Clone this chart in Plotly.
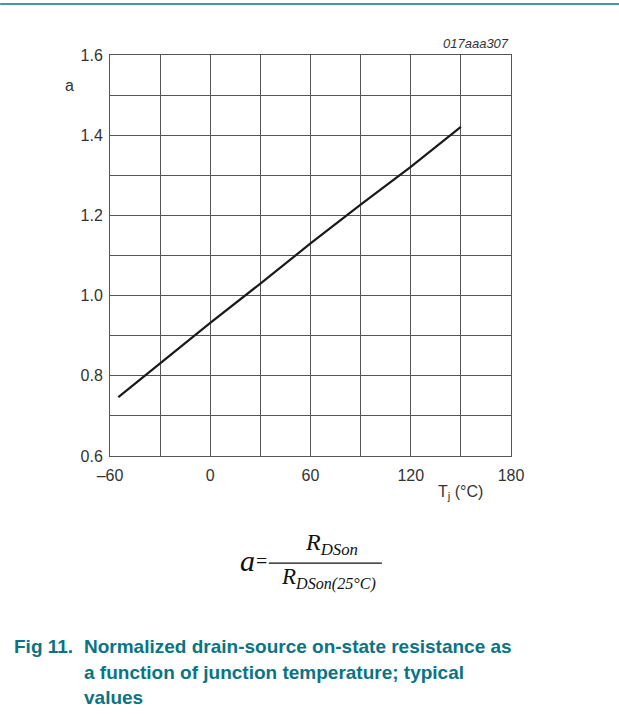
import plotly.graph_objects as go

# Normalized on-state resistance vs junction temperature
tj_c = [-55, -30, 0, 30, 60, 90, 120, 150]
a_norm = [0.747, 0.831, 0.932, 1.030, 1.130, 1.227, 1.321, 1.421]

x_ticks = [-60, 0, 60, 120, 180]
x_tick_text = ["\u201360", "0", "60", "120", "180"]
y_ticks = [0.6, 0.8, 1.0, 1.2, 1.4, 1.6]
y_tick_text = ["0.6", "0.8", "1.0", "1.2", "1.4", "1.6"]

GRID = "#555555"
TEAL = "#0a7384"
TXT = "#333333"
SANS = "Liberation Sans, Arial"

fig = go.Figure()
fig.add_trace(go.Scatter(
    x=tj_c, y=a_norm, mode="lines",
    line=dict(color="#1a1a1a", width=2.2),
    showlegend=False, hoverinfo="skip",
))

axis_common = dict(
    showline=True, linecolor=GRID, linewidth=1, mirror=True,
    showgrid=True, gridcolor=GRID, gridwidth=1,
    zeroline=False, ticks="",
    tickfont=dict(family=SANS, size=16, color=TXT),
)

fig.update_xaxes(
    range=[-60, 180], tickvals=x_ticks, ticktext=x_tick_text,
    minor=dict(dtick=30, tick0=-60, showgrid=True, gridcolor=GRID, gridwidth=1),
    ticklabelstandoff=5,
    **axis_common,
)
fig.update_yaxes(
    range=[0.6, 1.6], tickvals=y_ticks, ticktext=y_tick_text,
    minor=dict(dtick=0.1, tick0=0.6, showgrid=True, gridcolor=GRID, gridwidth=1),
    ticklabelstandoff=3,
    **axis_common,
)

# drawing number, axis symbols
fig.add_annotation(text="<i>017aaa307</i>", x=1.0, y=1.0, xref="paper", yref="paper",
                   xanchor="right", yanchor="bottom", yshift=2, showarrow=False,
                   font=dict(family=SANS, size=13, color=TXT))
fig.add_annotation(text="a", x=0, y=1, xref="paper", yref="paper",
                   xanchor="right", yanchor="middle", xshift=-34, yshift=-30,
                   showarrow=False, font=dict(family=SANS, size=16, color=TXT))
fig.add_annotation(text="T<sub>j</sub> (\u00b0C)", x=0.875, y=0, xref="paper",
                   yref="paper", xanchor="center", yanchor="top", yshift=-25,
                   showarrow=False, font=dict(family=SANS, size=16, color=TXT))

# definition of a
serif = "Liberation Serif, Times New Roman, serif"
EQ = "#111111"
fig.add_annotation(text="<i>a</i>", x=0.342, y=-0.260, xref="paper", yref="paper",
                   showarrow=False, xanchor="center", yanchor="middle",
                   font=dict(family=serif, size=30, color=EQ))
fig.add_annotation(text="=", x=0.377, y=-0.262, xref="paper", yref="paper",
                   showarrow=False, xanchor="center", yanchor="middle",
                   font=dict(family=serif, size=20, color=EQ))
fig.add_annotation(text="<i>R<sub>DSon</sub></i>", x=0.553, y=-0.220, xref="paper",
                   yref="paper", showarrow=False, xanchor="center", yanchor="middle",
                   font=dict(family=serif, size=24, color=EQ))
fig.add_annotation(text="<i>R<sub>DSon(25\u00b0C)</sub></i>", x=0.545, y=-0.306,
                   xref="paper", yref="paper", showarrow=False, xanchor="center",
                   yanchor="middle", font=dict(family=serif, size=23, color=EQ))
fig.add_shape(type="line", xref="paper", yref="paper", x0=0.396, x1=0.678,
              y0=-0.267, y1=-0.267, line=dict(color=EQ, width=1.2))

# teal rule at the top of the page
fig.add_shape(type="line", xref="paper", yref="paper", x0=-0.274, x1=1.27,
              y0=1.127, y1=1.127, line=dict(color=TEAL, width=1.5))

cap_font = dict(family=SANS, size=19, color=TEAL)
fig.add_annotation(text="<b>Fig 11.</b>", x=-0.244, y=-0.476, xref="paper",
                   yref="paper", showarrow=False, xanchor="left", yanchor="middle",
                   font=cap_font)
caption_lines = [
    "Normalized drain-source on-state resistance as",
    "a function of junction temperature; typical",
    "values",
]
for i, line in enumerate(caption_lines):
    fig.add_annotation(text=f"<b>{line}</b>", x=-0.069, y=-0.476 - 0.0636 * i,
                       xref="paper", yref="paper", showarrow=False,
                       xanchor="left", yanchor="middle", font=cap_font)

fig.update_layout(
    width=619, height=716,
    margin=dict(l=110, r=108, t=55, b=260),
    paper_bgcolor="white", plot_bgcolor="white",
)

fig.write_html("out.html")
